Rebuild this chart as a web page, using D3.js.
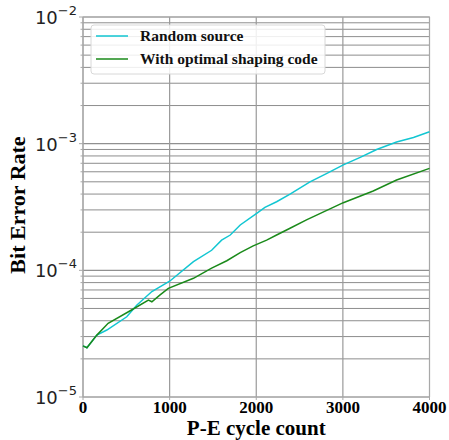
<!DOCTYPE html>
<html>
<head>
<meta charset="utf-8">
<script src="https://cdn.jsdelivr.net/npm/d3@7"></script>
<style>
  body { margin: 0; background: #fff; }
  svg { display: block; }
</style>
</head>
<body>
<script>
// P-E cycle counts and BER
const randomCycles = [0, 45, 160, 275, 505, 620, 795, 1000, 1275, 1485, 1600, 1700, 1815, 2005, 2100, 2235, 2390, 2620, 2810, 3005, 3200, 3390, 3620, 3815, 4000]
const randomBer = [2.53e-5, 2.45e-5, 3.08e-5, 3.38e-5, 4.3e-5, 5.3e-5, 6.8e-5, 8.2e-5, 1.17e-4, 1.44e-4, 1.73e-4, 1.9e-4, 2.28e-4, 2.82e-4, 3.14e-4, 3.48e-4, 4.0e-4, 5.0e-4, 5.8e-4, 6.8e-4, 7.8e-4, 9.0e-4, 1.03e-3, 1.12e-3, 1.24e-3]

const shapedCycles = [0, 45, 160, 290, 560, 755, 795, 890, 985, 1275, 1485, 1660, 1815, 1965, 2120, 2235, 2390, 2580, 3005, 3350, 3620, 4000]
const shapedBer = [2.53e-5, 2.45e-5, 3.08e-5, 3.82e-5, 4.86e-5, 5.83e-5, 5.65e-5, 6.4e-5, 7.2e-5, 8.65e-5, 1.04e-4, 1.19e-4, 1.38e-4, 1.56e-4, 1.73e-4, 1.9e-4, 2.15e-4, 2.5e-4, 3.42e-4, 4.23e-4, 5.16e-4, 6.38e-4]

const xTicks = [0, 1000, 2000, 3000, 4000]
const yDecades = [-5, -4, -3, -2]
const seriesNames = ["Random source", "With optimal shaping code"]
const seriesColors = ["#12c6d2", "#1a8a1a"]

const W = 449, H = 440
const pLeft = 83, pRight = 429.5, pTop = 17, pBottom = 397

const svg = d3.select("body").append("svg").attr("width", W).attr("height", H)

const x = d3.scaleLinear().domain([0, 4000]).range([pLeft, pRight])
const y = d3.scaleLog().domain([1e-5, 1e-2]).range([pBottom, pTop])

// minor grid values
const minor = []
yDecades.slice(0, 3).forEach(e => {
  for (let k = 2; k <= 9; k++) minor.push(k * Math.pow(10, e))
})

const grid = svg.append("g")
grid.selectAll(".hmin").data(minor).enter().append("line")
  .attr("x1", pLeft).attr("x2", pRight)
  .attr("y1", d => y(d)).attr("y2", d => y(d))
  .attr("stroke", "#707070").attr("stroke-width", 0.8)
grid.selectAll(".hmaj").data(yDecades).enter().append("line")
  .attr("x1", pLeft).attr("x2", pRight)
  .attr("y1", d => y(Math.pow(10, d))).attr("y2", d => y(Math.pow(10, d)))
  .attr("stroke", "#909090").attr("stroke-width", 1.2)
grid.selectAll(".vmaj").data(xTicks).enter().append("line")
  .attr("x1", d => x(d)).attr("x2", d => x(d))
  .attr("y1", pTop).attr("y2", pBottom)
  .attr("stroke", "#9a9a9a").attr("stroke-width", 1.2)

// frame
svg.append("rect").attr("x", pLeft).attr("y", pTop)
  .attr("width", pRight - pLeft).attr("height", pBottom - pTop)
  .attr("fill", "none").attr("stroke", "#a8a8a8").attr("stroke-width", 1)

// y ticks
svg.selectAll(".ytk").data(yDecades).enter().append("line")
  .attr("x1", pLeft - 4).attr("x2", pLeft)
  .attr("y1", d => y(Math.pow(10, d))).attr("y2", d => y(Math.pow(10, d)))
  .attr("stroke", "#a8a8a8")
svg.selectAll(".ytm").data(minor).enter().append("line")
  .attr("x1", pLeft - 2.5).attr("x2", pLeft)
  .attr("y1", d => y(d)).attr("y2", d => y(d))
  .attr("stroke", "#a8a8a8")

const yl = svg.selectAll(".ylab").data(yDecades).enter().append("text")
  .attr("x", pLeft - 6).attr("y", d => y(Math.pow(10, d)) + 7)
  .attr("text-anchor", "end")
  .attr("font-family", "DejaVu Sans").attr("font-size", 18).attr("fill", "#222")
yl.append("tspan").text("10")
yl.append("tspan").attr("dy", -9).attr("font-size", 13).text(d => "\u2212" + Math.abs(d))

// x ticks
svg.selectAll(".xtk").data(xTicks).enter().append("line")
  .attr("x1", d => x(d)).attr("x2", d => x(d))
  .attr("y1", pBottom).attr("y2", pBottom + 3)
  .attr("stroke", "#a8a8a8")
svg.selectAll(".xlab").data(xTicks).enter().append("text")
  .attr("x", d => x(d)).attr("y", pBottom + 16)
  .attr("text-anchor", "middle")
  .attr("font-family", "Liberation Serif").attr("font-weight", "bold")
  .attr("font-size", 17).text(d => d)

// curves
const line = d3.line().x(d => x(d[0])).y(d => y(d[1]))
const series = [
  d3.zip(randomCycles, randomBer),
  d3.zip(shapedCycles, shapedBer)
]
svg.selectAll(".curve").data(series).enter().append("path")
  .attr("d", line)
  .attr("fill", "none")
  .attr("stroke", (d, i) => seriesColors[i])
  .attr("stroke-width", 1.5)

// legend
const lg = svg.append("g")
lg.append("rect").attr("x", 91).attr("y", 25).attr("width", 234).attr("height", 49)
  .attr("rx", 3).attr("fill", "#fff").attr("fill-opacity", 0.85)
  .attr("stroke", "#d8d8d8")
seriesNames.forEach((n, i) => {
  const yy = 36 + i * 23
  lg.append("line").attr("x1", 96).attr("x2", 128).attr("y1", yy).attr("y2", yy)
    .attr("stroke", seriesColors[i]).attr("stroke-width", 1.5)
  lg.append("text").attr("x", 140).attr("y", yy + 5)
    .attr("font-family", "Liberation Serif").attr("font-weight", "bold")
    .attr("font-size", 15.5).attr("fill", "#111").text(n)
})

// axis titles
svg.append("text").attr("x", (pLeft + pRight) / 2).attr("y", 435)
  .attr("text-anchor", "middle")
  .attr("font-family", "Liberation Serif").attr("font-weight", "bold")
  .attr("font-size", 21).text("P-E cycle count")
svg.append("text").attr("transform", "translate(25,205) rotate(-90)")
  .attr("text-anchor", "middle")
  .attr("font-family", "Liberation Serif").attr("font-weight", "bold")
  .attr("font-size", 22).text("Bit Error Rate")
</script>
</body>
</html>
